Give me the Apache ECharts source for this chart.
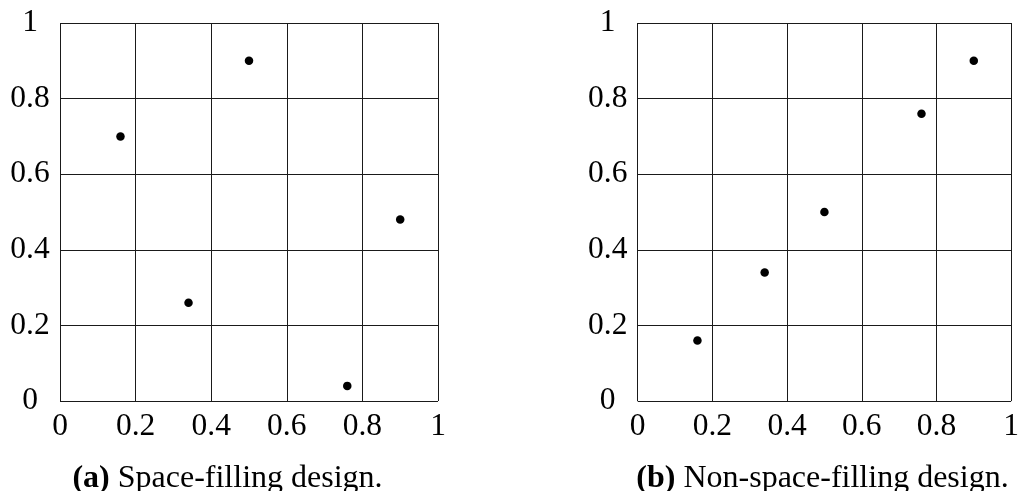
<!DOCTYPE html>
<html>
<head>
<meta charset="utf-8">
<script src="https://cdn.jsdelivr.net/npm/echarts@6/dist/echarts.min.js"></script>
<style>
html,body{margin:0;padding:0;background:#fff;}
#chart{width:1022px;height:491px;}
</style>
</head>
<body>
<div id="chart"></div>
<script>
// Tick values and labels (shared by both panels)
var tickValues = [0, 0.2, 0.4, 0.6, 0.8, 1];
var tickLabels = ['0', '0.2', '0.4', '0.6', '0.8', '1'];

// Panel (a): space-filling design
var spaceX = [0.16, 0.34, 0.50, 0.76, 0.90];
var spaceY = [0.70, 0.26, 0.90, 0.04, 0.48];

// Panel (b): non-space-filling design
var nonSpaceX = [0.16, 0.34, 0.50, 0.76, 0.90];
var nonSpaceY = [0.16, 0.34, 0.50, 0.76, 0.90];

var captionTags = ['(a)', '(b)'];
var captionTexts = ['Space-filling design.', 'Non-space-filling design.'];

var FONT = 'Liberation Serif';

function fmt(v) {
  for (var i = 0; i < tickValues.length; i++) {
    if (Math.abs(tickValues[i] - v) < 1e-9) return tickLabels[i];
  }
  return '';
}

function pairs(xs, ys) {
  return xs.map(function (x, i) { return [x, ys[i]]; });
}

var gridDefs = [
  {left: 60, top: 23, width: 378, height: 378},
  {left: 637.7, top: 23, width: 378, height: 378}
];

var splitStyle = {show: true, lineStyle: {color: '#1a1a1a', width: 1, type: 'solid'}};

var xAxes = [0, 1].map(function (i) {
  return {
    gridIndex: i, type: 'value', min: 0, max: 1, interval: 0.2,
    axisLine: {show: false}, axisTick: {show: false},
    splitLine: splitStyle,
    axisLabel: {
      fontFamily: FONT, fontSize: 31.5, color: '#000',
      margin: 25.5, verticalAlign: 'middle', align: 'center',
      formatter: fmt
    }
  };
});

var yAxes = [0, 1].map(function (i) {
  return {
    gridIndex: i, type: 'value', min: 0, max: 1, interval: 0.2,
    axisLine: {show: false}, axisTick: {show: false},
    splitLine: splitStyle,
    axisLabel: {
      fontFamily: FONT, fontSize: 31.5, color: '#000',
      margin: 30, align: 'center', verticalAlign: 'middle',
      formatter: fmt
    }
  };
});

var captionCenters = [227.5, 822.5];

var chart = echarts.init(document.getElementById('chart'), null, {renderer: 'canvas'});
chart.setOption({
  animation: false,
  backgroundColor: '#fff',
  grid: gridDefs,
  xAxis: xAxes,
  yAxis: yAxes,
  series: [
    {type: 'scatter', xAxisIndex: 0, yAxisIndex: 0, data: pairs(spaceX, spaceY),
     symbol: 'circle', symbolSize: 8.5, itemStyle: {color: '#000', opacity: 1}},
    {type: 'scatter', xAxisIndex: 1, yAxisIndex: 1, data: pairs(nonSpaceX, nonSpaceY),
     symbol: 'circle', symbolSize: 8.5, itemStyle: {color: '#000', opacity: 1}}
  ],
  graphic: [0, 1].map(function (i) {
    return {
      type: 'text',
      x: captionCenters[i], y: 478.5,
      style: {
        text: '{b|' + captionTags[i] + '} ' + captionTexts[i],
        fontFamily: FONT, fontSize: 32, fill: '#000',
        align: 'center', verticalAlign: 'middle',
        rich: {b: {fontFamily: FONT, fontSize: 32, fontWeight: 'bold', fill: '#000'}}
      }
    };
  })
});
</script>
</body>
</html>
